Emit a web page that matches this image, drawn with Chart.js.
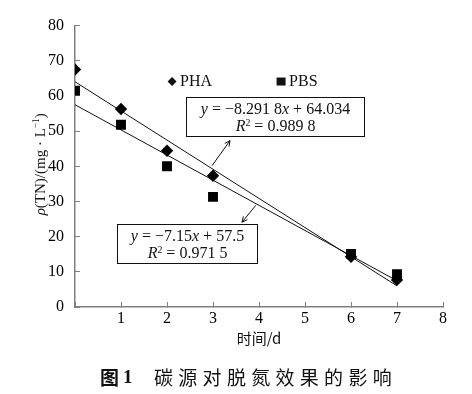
<!DOCTYPE html>
<html><head><meta charset="utf-8">
<script src="https://cdn.jsdelivr.net/npm/chart.js@4.4.1/dist/chart.umd.min.js"></script>
<style>html,body{margin:0;padding:0;background:#fff;overflow:hidden}#wrap{width:472px;height:394px;position:relative}</style>
</head><body><div id="wrap"><canvas id="c" width="472" height="394"></canvas></div>
<script>
// ---- data ----
const days = [0, 1, 2, 3, 6, 7];
const phaValues = [67.5, 56.3, 44.4, 37.3, 14.3, 7.7];
const pbsValues = [61.5, 51.8, 40.0, 31.3, 15.1, 9.3];
const phaTrendX = [0, 7];
const phaTrendY = [64.03, 6.00];
const pbsTrendX = [0, 7];
const pbsTrendY = [57.5, 7.45];
const xTicks = [0, 1, 2, 3, 4, 5, 6, 7, 8];
const yTicks = [0, 10, 20, 30, 40, 50, 60, 70, 80];
const seriesNames = ['PHA', 'PBS'];
const eqPHA = [[{t:'y', it:1},{t:' = −8.291 8'},{t:'x', it:1},{t:' + 64.034'}],
               [{t:'R', it:1},{t:'2', sup:1},{t:' = 0.989 8'}]];
const eqPBS = [[{t:'y', it:1},{t:' = −7.15'},{t:'x', it:1},{t:' + 57.5'}],
               [{t:'R', it:1},{t:'2', sup:1},{t:' = 0.971 5'}]];
const yTitle = [{t:'ρ', it:1},{t:'(TN)/(mg · L'},{t:'−1', sup:1},{t:')'}];
const xTitle = '时间/d';
const captionNo = '图1';
const captionText = '碳源对脱氮效果的影响';

const SERIF = '"Liberation Serif", "Times New Roman", serif';
const pts = (xs, ys) => xs.map((x, i) => ({x, y: ys[i]}));

function richWidth(ctx, segs, size) {
  let w = 0;
  segs.forEach(s => { ctx.font = (s.it ? 'italic ' : '') + (s.sup ? size * 0.62 : size) + 'px ' + SERIF; w += ctx.measureText(s.t).width; });
  return w;
}
function drawRich(ctx, segs, cx, baseY, size) {
  const total = richWidth(ctx, segs, size);
  let x = cx - total / 2;
  ctx.textBaseline = 'alphabetic';
  ctx.textAlign = 'left';
  segs.forEach(s => {
    const fs = s.sup ? size * 0.62 : size;
    ctx.font = (s.it ? 'italic ' : '') + fs + 'px ' + SERIF;
    ctx.fillText(s.t, x, baseY - (s.sup ? size * 0.36 : 0));
    x += ctx.measureText(s.t).width;
  });
}
function arrow(ctx, x1, y1, x2, y2) {
  ctx.beginPath(); ctx.moveTo(x1, y1); ctx.lineTo(x2, y2); ctx.stroke();
  const a = Math.atan2(y2 - y1, x2 - x1), L = 6, s = 0.45;
  ctx.beginPath();
  ctx.moveTo(x2 - L * Math.cos(a - s), y2 - L * Math.sin(a - s));
  ctx.lineTo(x2, y2);
  ctx.lineTo(x2 - L * Math.cos(a + s), y2 - L * Math.sin(a + s));
  ctx.stroke();
}

// annotation layout (in data coordinates)
const notes = {
  box1: {x1: 2.41, x2: 6.28, y1: 59.7, y2: 48.5},
  box2: {x1: 0.91, x2: 3.96, y1: 23.6, y2: 12.6},
  arrow1: {x1: 2.98, y1: 40.2, x2: 3.37, y2: 47.3},
  arrow2: {x1: 3.93, y1: 28.9, x2: 3.63, y2: 24.1},
  legend: [{x: 2.11, y: 64.1}, {x: 4.48, y: 64.1}]
};

const extras = {
  id: 'extras',
  afterDraw(chart) {
    const {ctx, scales: {x, y}} = chart;
    const X = v => x.getPixelForValue(v), Y = v => y.getPixelForValue(v);
    ctx.save();
    ctx.fillStyle = '#111'; ctx.strokeStyle = '#111'; ctx.lineWidth = 1;
    // boxes
    [[notes.box1, eqPHA], [notes.box2, eqPBS]].forEach(([b, eq]) => {
      const l = Math.round(X(b.x1)) + 0.5, r = Math.round(X(b.x2)) + 0.5;
      const t = Math.round(Y(b.y1)) + 0.5, bt = Math.round(Y(b.y2)) + 0.5;
      ctx.fillStyle = '#fff'; ctx.fillRect(l, t, r - l, bt - t);
      ctx.strokeRect(l, t, r - l, bt - t);
      ctx.fillStyle = '#111';
      const cx = (l + r) / 2, h = bt - t;
      drawRich(ctx, eq[0], cx, t + h * 0.27 + 5.5, 16);
      drawRich(ctx, eq[1], cx, t + h * 0.73 + 5.5, 16);
    });
    // arrows
    [notes.arrow1, notes.arrow2].forEach(a => arrow(ctx, X(a.x1), Y(a.y1), X(a.x2), Y(a.y2)));
    // legend
    chart.data.datasets.slice(0, 2).forEach((ds) => {
      const p = notes.legend[ds.label === seriesNames[0] ? 0 : 1];
      const cx = X(p.x), cy = Y(p.y);
      ctx.fillStyle = '#111';
      ctx.beginPath();
      if (ds.pointStyle === 'rectRot') {
        ctx.moveTo(cx, cy - 4.5); ctx.lineTo(cx + 4.5, cy); ctx.lineTo(cx, cy + 4.5); ctx.lineTo(cx - 4.5, cy);
      } else {
        ctx.rect(cx - 4.5, cy - 4, 9, 8);
      }
      ctx.closePath(); ctx.fill();
      ctx.font = '16px ' + SERIF; ctx.textAlign = 'left'; ctx.textBaseline = 'middle';
      ctx.fillText(ds.label, cx + 8, cy + 0.5);
    });
    // y axis title (rotated)
    ctx.save();
    ctx.translate(39, (chart.chartArea.top + chart.chartArea.bottom) / 2 - 2);
    ctx.rotate(-Math.PI / 2);
    drawRich(ctx, yTitle, 0, 5.5, 15);
    ctx.restore();
    // caption
    ctx.fillStyle = '#111';
    ctx.textBaseline = 'middle'; ctx.textAlign = 'left';
    ctx.font = 'bold 19px "Noto Sans CJK SC"';
    ctx.fillText(captionNo.slice(0, 1), 100, 378);
    ctx.font = 'bold 19px ' + SERIF;
    ctx.fillText(captionNo.slice(1), 123, 378);
    ctx.font = '19px "Noto Sans CJK SC"';
    const chars = Array.from(captionText);
    chars.forEach((ch, i) => ctx.fillText(ch, 154 + i * 24.3, 378));
    ctx.restore();
  }
};

new Chart(document.getElementById('c'), {
  type: 'scatter',
  data: {
    datasets: [
      {label: seriesNames[1], data: pts(days, pbsValues), pointStyle: 'rect', pointRadius: 7, backgroundColor: '#000', borderColor: '#000', borderWidth: 0, showLine: false, order: 0},
      {label: seriesNames[0], data: pts(days, phaValues), pointStyle: 'rectRot', pointRadius: 6.2, backgroundColor: '#000', borderColor: '#000', borderWidth: 0, showLine: false, order: 1},
      {label: 'PHA trend', type: 'line', data: pts(phaTrendX, phaTrendY), borderColor: '#111', borderWidth: 1, pointRadius: 0, fill: false, order: 2},
      {label: 'PBS trend', type: 'line', data: pts(pbsTrendX, pbsTrendY), borderColor: '#111', borderWidth: 1, pointRadius: 0, fill: false, order: 3}
    ]
  },
  options: {
    responsive: false, animation: false, devicePixelRatio: 1,
    layout: {padding: {top: 15, right: 29, left: 0, bottom: 0}},
    plugins: {legend: {display: false}, tooltip: {enabled: false}, title: {display: false}},
    scales: {
      x: {
        type: 'linear', min: 0, max: 8,
        afterBuildTicks: s => { s.ticks = xTicks.map(v => ({value: v})); },
        afterFit: s => { s.height = 87; },
        ticks: {callback: v => (v === 0 ? '' : String(v)), font: {family: SERIF, size: 16}, color: '#000', padding: 7, maxRotation: 0, autoSkip: false},
        grid: {drawOnChartArea: false, tickLength: -5, color: '#808080', lineWidth: 1},
        border: {color: '#808080', width: 1.5},
        title: {display: true, text: xTitle, font: {family: '"Noto Sans CJK SC"', size: 15}, color: '#111', padding: {top: 0, bottom: 47}}
      },
      y: {
        type: 'linear', min: 0, max: 80,
        afterBuildTicks: s => { s.ticks = yTicks.map(v => ({value: v})); },
        afterFit: s => { s.width = 75; },
        ticks: {font: {family: SERIF, size: 16}, color: '#000', padding: 16, autoSkip: false},
        grid: {drawOnChartArea: false, tickLength: -5, color: '#808080', lineWidth: 1},
        border: {color: '#808080', width: 1.5}
      }
    }
  },
  plugins: [extras]
});
</script></body></html>
